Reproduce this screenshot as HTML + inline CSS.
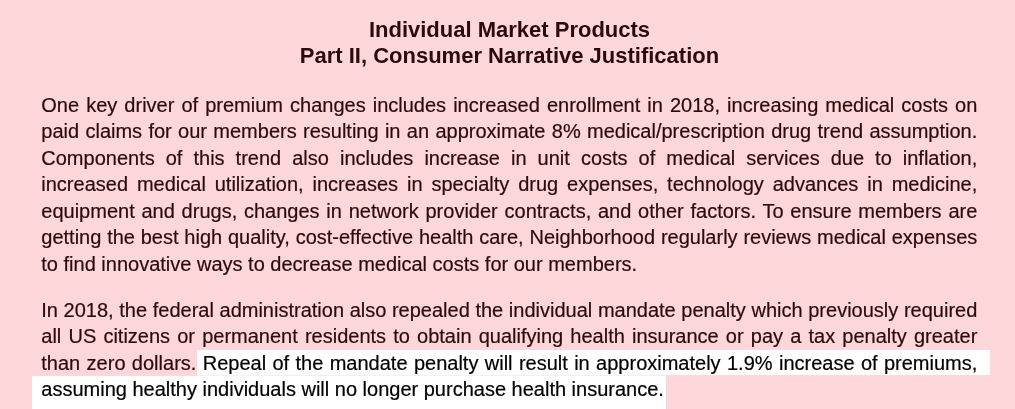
<!DOCTYPE html>
<html lang="en"><head><meta charset="utf-8"><title>Individual Market Products</title>
<style>
html,body{margin:0;padding:0}
body{width:1015px;height:409px;overflow:hidden;background:#fdd7da;position:relative;font-family:"Liberation Sans",sans-serif;color:#2e090c}
.hl{position:absolute;background:#fff}
.t{position:absolute;left:1.7px;width:1015px;text-align:center;font-weight:bold;font-size:22px;line-height:26px;white-space:nowrap}
.l{-webkit-text-stroke:0.2px currentColor;position:absolute;left:41px;width:936px;font-size:20px;line-height:26px;white-space:nowrap;text-align:justify;text-align-last:justify}
.l.e{text-align:left;text-align-last:left}
.k{color:#000}
</style></head><body>
<div class="hl" style="left:197px;top:350px;width:793px;height:25px"></div>
<div class="hl" style="left:197px;top:375px;width:469px;height:1px;background:#fdeced"></div>
<div class="hl" style="left:32px;top:376px;width:634px;height:33px"></div>

<div id="w" style="position:absolute;left:0;top:0;width:1015px;height:409px;transform:translate(0.3px,0.4px)">
<div class="t" style="top:16.50px">Individual Market Products</div>
<div class="t" style="top:43.00px">Part II, Consumer Narrative Justification</div>
<div class="l" style="top:91.50px">One key driver of premium changes includes increased enrollment in 2018, increasing medical costs on</div>
<div class="l" style="top:118.05px">paid claims for our members resulting in an approximate 8% medical/prescription drug trend assumption.</div>
<div class="l" style="top:144.60px">Components of this trend also includes increase in unit costs of medical services due to inflation,</div>
<div class="l" style="top:171.15px">increased medical utilization, increases in specialty drug expenses, technology advances in medicine,</div>
<div class="l" style="top:197.70px">equipment and drugs, changes in network provider contracts, and other factors. To ensure members are</div>
<div class="l" style="top:224.25px">getting the best high quality, cost-effective health care, Neighborhood regularly reviews medical expenses</div>
<div class="l e" style="top:250.80px">to find innovative ways to decrease medical costs for our members.</div>
<div class="l" style="top:296.80px">In 2018, the federal administration also repealed the individual mandate penalty which previously required</div>
<div class="l" style="top:323.35px">all US citizens or permanent residents to obtain qualifying health insurance or pay a tax penalty greater</div>
<div class="l" style="top:349.90px">than zero dollars. <span class="k">Repeal of the mandate penalty will result in approximately 1.9% increase of premiums,</span></div>
<div class="l e" style="top:376.45px"><span class="k">assuming healthy individuals will no longer purchase health insurance.</span></div>
</div>
</body></html>
